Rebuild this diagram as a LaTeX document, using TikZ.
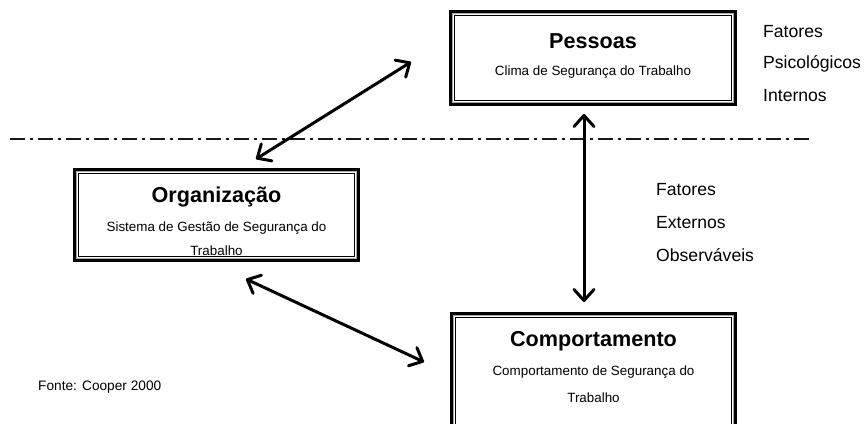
\documentclass[tikz,border=0pt]{standalone}
\usepackage{fontspec}
\setmainfont{Liberation Sans}
\usetikzlibrary{arrows.meta,calc}
\tikzset{
  boxouter/.style={draw=black,line width=3.5pt,inner sep=0pt},
  boxgray/.style={draw=gray!70,line width=1pt},
  boxinner/.style={draw=black,line width=0.8pt},
  head/.style={font=\bfseries\fontsize{21.6}{24}\selectfont,inner sep=0pt},
  sub/.style={font=\fontsize{13.4}{15}\selectfont,inner sep=0pt},
  side/.style={font=\fontsize{17.6}{19}\selectfont,inner sep=0pt,anchor=west},
  arr/.style={line width=3pt,{Straight Barb[length=11pt,width=20pt,line width=3pt,round]}-{Straight Barb[length=11pt,width=20pt,line width=3pt,round]}},
  divider/.style={line width=1.8pt,gray!20!black,dash pattern=on 15pt off 5pt on 3pt off 5pt}
}
\newcommand{\tribox}[1]{%
  \draw[boxgray] ([shift={(3.5,3.5)}]#1.north west) rectangle ([shift={(-3.5,-3.5)}]#1.south east);
  \draw[boxinner] ([shift={(5,5)}]#1.north west) rectangle ([shift={(-5,-5)}]#1.south east);
}
\begin{document}
\begin{tikzpicture}[x=1pt,y=-1pt]
\clip (0,0) rectangle (867,423);
\fill[white] (0,0) rectangle (867,423);
% boxes
\node[boxouter,minimum width=284pt,minimum height=92pt] (pes) at (593,58) {};
\tribox{pes}
\node[boxouter,minimum width=283pt,minimum height=90pt] (org) at (216.5,215) {};
\tribox{org}
\node[boxouter,minimum width=283pt,minimum height=130pt] (comp) at (593.5,379) {};
\tribox{comp}
% texts
\node[head] (pesT) at (593,41) {Pessoas};
\node[sub] (pesS) at (593,72) {Clima de Segurança do Trabalho};
\node[head] (orgT) at (216.5,197) {Organização};
\node[sub] (orgS) at (216.5,228) {Sistema de Gestão de Segurança do};
\begin{scope}
\clip ([shift={(4,4)}]org.north west) rectangle ([shift={(-4,-5.5)}]org.south east);
\node[sub] (orgS2) at (216.5,251) {Trabalho};
\end{scope}
\node[head] (compT) at (593.5,341) {Comportamento};
\node[sub] (compS) at (593.5,372) {Comportamento de Segurança do};
\node[sub] (compS2) at (593.5,398) {Trabalho};
\node[side] (f1) at (763,32) {Fatores};
\node[side] (f2) at (763,64) {Psicológicos};
\node[side] (f3) at (763,96) {Internos};
\node[side] (e1) at (656,190) {Fatores};
\node[side] (e2) at (656,223) {Externos};
\node[side] (e3) at (656,255) {Observáveis};
\node[sub,font=\fontsize{13.7}{15}\selectfont,anchor=west] (fonte) at (38,387) {Fonte: Cooper 2000};
% divider
\coordinate (dl) at (10,139);
\coordinate (dr) at (812,139);
\draw[divider] (dl) -- (dr);
% arrows
\coordinate (a1) at (411,62);
\coordinate (a2) at (256,159);
\coordinate (b1) at (584,114);
\coordinate (b2) at (584,302);
\coordinate (c1) at (246,279);
\coordinate (c2) at (424,362);
\draw[arr] (a1) -- (a2);
\draw[arr] (b1) -- (b2);
\draw[arr] (c1) -- (c2);
\end{tikzpicture}
\end{document}
